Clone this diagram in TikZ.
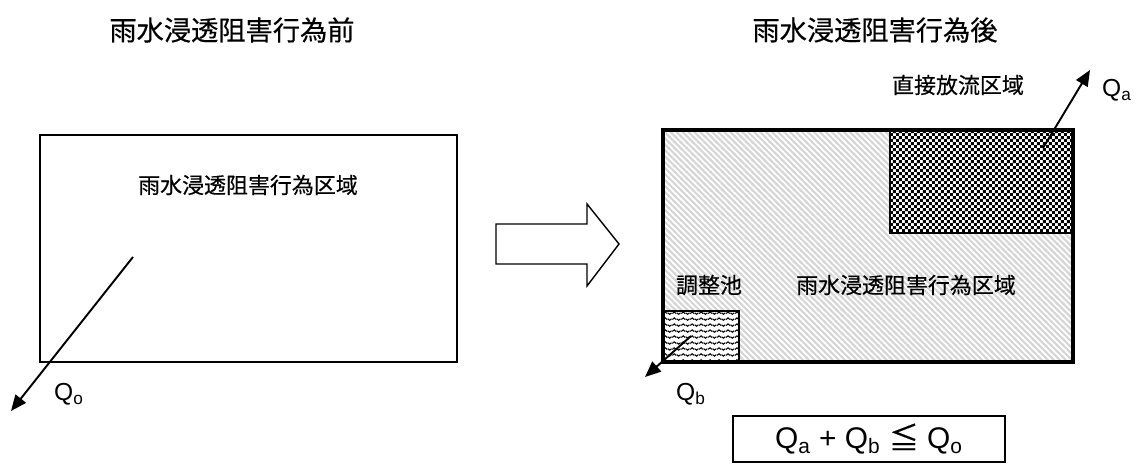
\documentclass[tikz,border=0pt]{standalone}
\usepackage{fontspec}
\setmainfont{Liberation Sans}
\newfontfamily\jp[FakeBold=0.4]{Noto Sans CJK JP}
\usetikzlibrary{arrows.meta,patterns}

% fill patterns for the three areas
\pgfdeclarepatternformonly{rainhatch}{\pgfqpoint{-1pt}{-1pt}}{\pgfqpoint{4.4pt}{4.4pt}}{\pgfqpoint{3.4pt}{3.4pt}}{%
  \pgfsetlinewidth{1.2pt}%
  \pgfpathmoveto{\pgfqpoint{-0.5pt}{3.9pt}}%
  \pgfpathlineto{\pgfqpoint{3.9pt}{-0.5pt}}%
  \pgfusepath{stroke}}
\pgfdeclarepatternformonly{checker}{\pgfpointorigin}{\pgfqpoint{3.4pt}{3.4pt}}{\pgfqpoint{3.4pt}{3.4pt}}{%
  \pgfpathrectangle{\pgfpointorigin}{\pgfqpoint{1.7pt}{1.7pt}}%
  \pgfpathrectangle{\pgfqpoint{1.7pt}{1.7pt}}{\pgfqpoint{1.7pt}{1.7pt}}%
  \pgfusepath{fill}}
\pgfdeclarepatternformonly{ripple}{\pgfqpoint{-0.5pt}{-0.5pt}}{\pgfqpoint{5.6pt}{3.9pt}}{\pgfqpoint{5.1pt}{3.4pt}}{%
  \pgfsetlinewidth{0.6pt}%
  \pgfpathmoveto{\pgfqpoint{0.2pt}{1.2pt}}%
  \pgfpathcurveto{\pgfqpoint{0.9pt}{2.4pt}}{\pgfqpoint{1.6pt}{2.4pt}}{\pgfqpoint{2.3pt}{1.2pt}}%
  \pgfpathmoveto{\pgfqpoint{2.7pt}{1.6pt}}%
  \pgfpathcurveto{\pgfqpoint{3.4pt}{0.5pt}}{\pgfqpoint{4.1pt}{0.5pt}}{\pgfqpoint{4.8pt}{1.6pt}}%
  \pgfusepath{stroke}}

\tikzset{
  title/.style={font=\jp\fontsize{15.5}{18}\selectfont},
  area/.style={font=\jp\fontsize{12.5}{15}\selectfont},
  flow/.style={font=\fontsize{14}{16}\selectfont},
  outflow/.style={line width=1.1pt,-{Triangle[length=9pt,width=7.5pt]}},
}

\begin{document}
\begin{tikzpicture}[x=0.02cm,y=-0.02cm]
  \useasboundingbox (0,0) rectangle (1139,465);
  % before
  \node[title] (ttlpre) at (232,30) {雨水浸透阻害行為前};
  \draw[line width=1.4pt] (40,135) rectangle (457,362);
  \node[area] (areapre) at (248,185) {雨水浸透阻害行為区域};
  \coordinate (srco) at (133,257);
  \coordinate (endo) at (11,411);
  \draw[outflow] (srco) -- (endo);
  \node[flow] (qo) at (69,394) {Q\textsubscript{o}};
  % block arrow
  \draw[line width=0.8pt,fill=white] (496,224) -- (587,224) -- (587,204) -- (619,244)
    -- (587,286) -- (587,264) -- (496,264) -- cycle;
  % after
  \node[title] (ttlpost) at (875,30) {雨水浸透阻害行為後};
  \fill[pattern=rainhatch,pattern color=gray!32] (663,130) rectangle (1073,362);
  \fill[white] (890,130) rectangle (1073,233);
  \fill[pattern=checker] (890,130) rectangle (1073,233);
  \fill[white] (663,311) rectangle (739,362);
  \fill[pattern=ripple] (663,311) rectangle (739,362);
  \draw[line width=1.6pt] (890,130) rectangle (1073,233);
  \draw[line width=1.6pt] (663,311) rectangle (739,362);
  \draw[line width=1.8pt] (663,130) rectangle (1073,362);
  \node[area] (direct) at (958,85) {直接放流区域};
  \node[area] (pond) at (709,285) {調整池};
  \node[area] (areapost) at (906,285) {雨水浸透阻害行為区域};
  \coordinate (srca) at (1043,148);
  \coordinate (enda) at (1090,70);
  \draw[outflow] (srca) -- (enda);
  \node[flow] (qa) at (1117,90) {Q\textsubscript{a}};
  \coordinate (srcb) at (691,336);
  \coordinate (endb) at (645,377);
  \draw[outflow] (srcb) -- (endb);
  \node[flow] (qb) at (691,394) {Q\textsubscript{b}};
  % condition
  \node[draw,line width=1.1pt,minimum width=5.44cm,minimum height=0.92cm,
    font=\fontsize{17}{20}\selectfont] (cond) at (869,439)
    {Q\textsubscript{a} + Q\textsubscript{b} {\jp ≦} Q\textsubscript{o}};
\end{tikzpicture}
\end{document}
